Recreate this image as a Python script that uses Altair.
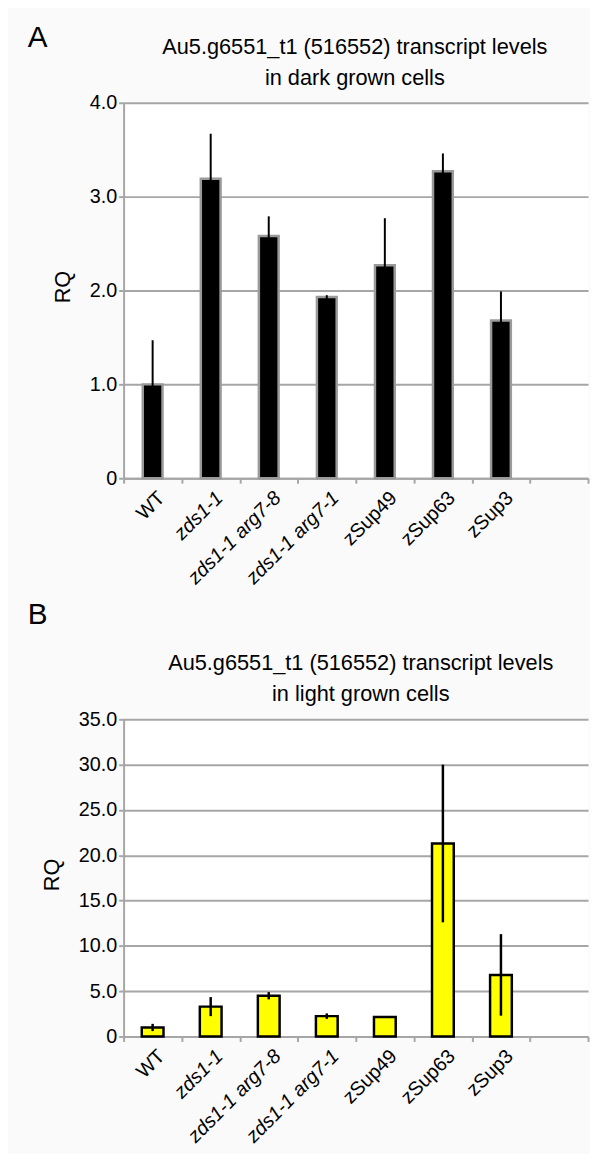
import altair as alt
import pandas as pd

# ---- data ----
categories = ["WT", "zds1-1", "zds1-1 arg7-8", "zds1-1 arg7-1", "zSup49", "zSup63", "zSup3"]
italic_labels = ["zds1-1", "zds1-1 arg7-8", "zds1-1 arg7-1"]
dark_rq = [1.00, 3.19, 2.58, 1.93, 2.27, 3.27, 1.68]
dark_err = [0.47, 0.48, 0.21, 0.02, 0.50, 0.19, 0.31]
light_rq = [1.00, 3.30, 4.50, 2.25, 2.15, 21.30, 6.80]
light_err = [0.40, 1.05, 0.40, 0.30, 0.05, 8.70, 4.50]
dark_ticks = [0, 1, 2, 3, 4]
light_ticks = [0, 5, 10, 15, 20, 25, 30, 35]
title_a = ["Au5.g6551_t1 (516552) transcript levels", "in dark grown cells"]
title_b = ["Au5.g6551_t1 (516552) transcript levels", "in light grown cells"]
x_domain = categories + [" "]

FONT = "Liberation Sans"
GRID = "#a6a6a6"
W = 470


def panel(letter, letter_y, title_lines, title_x, title_y, rq, err, ticks, ymax,
          height, fill, stroke, bar_w, bar_sw, rule_w, rq_y):
    df = pd.DataFrame({
        "genotype": categories, "RQ": rq, "err": err,
        "style": ["italic" if c in italic_labels else "normal" for c in categories],
    })
    xenc = alt.X(
        "genotype:N",
        sort=x_domain,
        scale=alt.Scale(domain=x_domain, paddingInner=0, paddingOuter=0),
        axis=alt.Axis(
            title=None, labels=False, tickBand="extent", tickColor=GRID,
            tickWidth=2, tickSize=5, domainColor=GRID, domainWidth=2, grid=False,
        ),
    )
    yscale = alt.Scale(domain=[0, ymax], nice=False, zero=True)
    yaxis = alt.Axis(
        values=ticks, title="RQ", titleFont=FONT, titleFontSize=22,
        titleFontWeight="normal", titleColor="black", titlePadding=15, titleY=rq_y,
        labelExpr="datum.value == 0 ? '0' : format(datum.value, '.1f')",
        labelFont=FONT, labelFontSize=20, labelColor="black", labelPadding=2,
        tickColor=GRID, tickWidth=2, tickSize=5, domainColor=GRID, domainWidth=2,
        gridColor=GRID, gridWidth=2, gridOpacity=1,
    )
    base = alt.Chart(df)
    bars = base.mark_bar(width=bar_w, fill=fill, stroke=stroke,
                         strokeWidth=bar_sw).encode(
        x=xenc, y=alt.Y("RQ:Q", scale=yscale, axis=yaxis))
    errs = base.transform_calculate(
        lo="datum.RQ - datum.err", hi="datum.RQ + datum.err"
    ).mark_rule(color="black", strokeWidth=rule_w).encode(
        x=xenc, y=alt.Y("lo:Q", scale=yscale, axis=yaxis), y2="hi:Q")
    labels = []
    for style in ["italic", "normal"]:
        labels.append(
            base.transform_filter(alt.datum.style == style).mark_text(
                angle=315, align="right", baseline="top", font=FONT, fontSize=20,
                fontStyle=style, color="black", dx=3,
            ).encode(x=xenc, y=alt.value(height + 12), text="genotype:N")
        )
    one = alt.Chart(pd.DataFrame({"k": [0]}))
    lab = one.mark_text(
        font=FONT, fontSize=30, align="left", baseline="alphabetic", color="black"
    ).encode(text=alt.value(letter), x=alt.value(-97), y=alt.value(letter_y))
    ttl = one.mark_text(
        font=FONT, fontSize=22, align="center", baseline="alphabetic",
        color="black", lineHeight=31,
    ).encode(text=alt.value(title_lines), x=alt.value(title_x), y=alt.value(title_y))
    return alt.layer(bars, errs, *labels, lab, ttl).properties(width=W, height=height)


a = panel("A", -56, title_a, 234, -49, dark_rq, dark_err, dark_ticks, 4, 380,
          "black", "#9a9a9a", 20, 2.5, 2, 186)
b = panel("B", -96, title_b, 240, -50, light_rq, light_err, light_ticks, 35, 321,
          "#ffff00", "black", 22, 2.5, 2.5, 157)

chart = alt.vconcat(a, b, spacing=11).properties(
    padding={"left": 19, "top": 8, "right": 0, "bottom": 0}
).configure(background="#fafafa").configure_view(stroke="transparent", fill="white")

chart.save("out.html", embed_options={"renderer": "svg", "actions": False})
